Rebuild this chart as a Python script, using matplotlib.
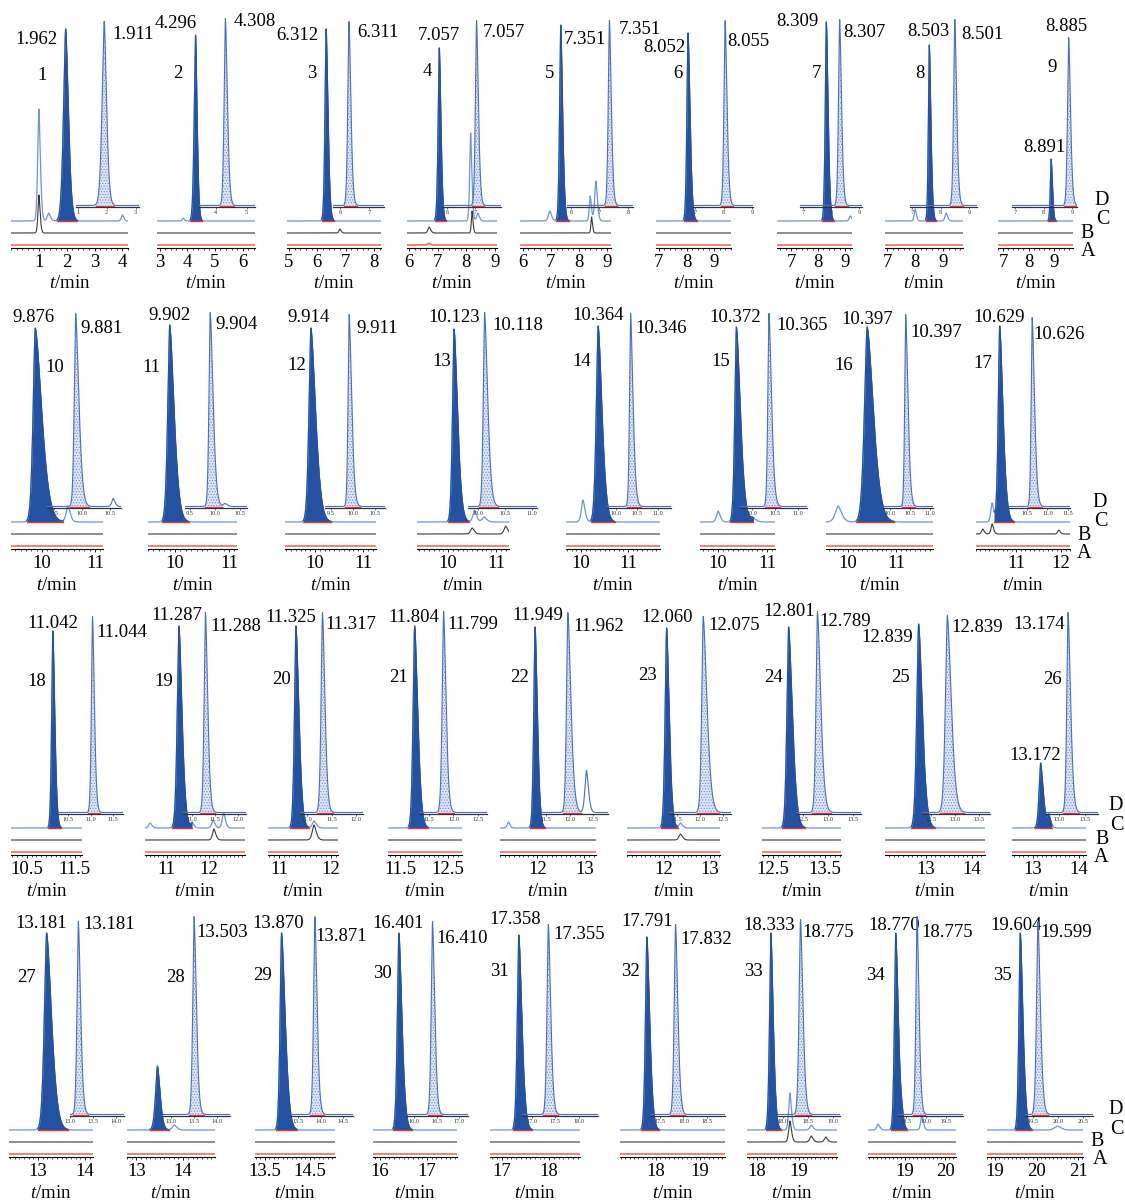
import numpy as np
import matplotlib
matplotlib.use("Agg")
import matplotlib.pyplot as plt
from matplotlib.ticker import MultipleLocator

plt.rcParams['font.family'] = ['Liberation Serif', 'DejaVu Serif']
plt.rcParams['mathtext.fontset'] = 'custom'
plt.rcParams['mathtext.rm'] = 'Liberation Serif'
plt.rcParams['mathtext.it'] = 'Liberation Serif:italic'
plt.rcParams['hatch.linewidth'] = 0.5

# ---------------- data ----------------
compound = list(range(1, 36))
# retention time of peak in trace C (filled) and its label
filled_rt = [1.962, 4.296, 6.312, 7.057, 7.351, 8.052, 8.309, 8.503, 8.891,
             9.876, 9.902, 9.914, 10.123, 10.364, 10.372, 10.397, 10.629,
             11.042, 11.287, 11.325, 11.804, 11.949, 12.060, 12.801, 12.839, 13.172,
             13.181, 13.45, 13.870, 16.401, 17.358, 17.791, 18.333, 18.770, 19.604]
filled_label = ["1.962", "4.296", "6.312", "7.057", "7.351", "8.052", "8.309", "8.503", "8.891",
                "9.876", "9.902", "9.914", "10.123", "10.364", "10.372", "10.397", "10.629",
                "11.042", "11.287", "11.325", "11.804", "11.949", "12.060", "12.801", "12.839", "13.172",
                "13.181", "", "13.870", "16.401", "17.358", "17.791", "18.333", "18.770", "19.604"]
filled_height = [192, 186, 192, 173, 196, 188, 199, 176, 62,
                 194, 197, 194, 193, 196, 195, 195, 196,
                 197, 202, 202, 202, 201, 200, 201, 204, 65,
                 197, 64, 197, 197, 195, 193, 197, 197, 197]
filled_width = [(0.095, 0.12), (0.06, 0.07), (0.05, 0.08), (0.05, 0.07), (0.05, 0.08), (0.05, 0.09),
                (0.05, 0.08), (0.04, 0.07), (0.04, 0.06),
                (0.05, 0.15), (0.045, 0.1), (0.05, 0.12), (0.04, 0.09), (0.05, 0.1), (0.04, 0.1),
                (0.07, 0.16), (0.04, 0.09),
                (0.03, 0.05), (0.05, 0.09), (0.035, 0.07), (0.04, 0.08), (0.035, 0.06), (0.04, 0.07),
                (0.04, 0.09), (0.05, 0.1), (0.04, 0.07),
                (0.06, 0.13), (0.05, 0.07), (0.04, 0.1), (0.04, 0.08), (0.04, 0.08), (0.04, 0.08),
                (0.04, 0.07), (0.04, 0.08), (0.04, 0.08)]
# retention time of peak in trace D (dotted) and its label
hatched_rt = [1.911, 4.308, 6.311, 7.057, 7.351, 8.055, 8.307, 8.501, 8.885,
              9.881, 9.904, 9.911, 10.118, 10.346, 10.365, 10.397, 10.626,
              11.044, 11.288, 11.317, 11.799, 11.962, 12.075, 12.789, 12.839, 13.174,
              13.181, 13.503, 13.871, 16.410, 17.355, 17.832, 18.35, 18.775, 19.599]
hatched_label = ["1.911", "4.308", "6.311", "7.057", "7.351", "8.055", "8.307", "8.501", "8.885",
                 "9.881", "9.904", "9.911", "10.118", "10.346", "10.365", "10.397", "10.626",
                 "11.044", "11.288", "11.317", "11.799", "11.962", "12.075", "12.789", "12.839", "13.174",
                 "13.181", "13.503", "13.871", "16.410", "17.355", "17.832", "18.775", "18.775", "19.599"]
hatched_height = [184, 187, 184, 185, 185, 185, 186, 186, 168,
                  193, 194, 192, 194, 193, 193, 192, 189,
                  196, 200, 200, 201, 200, 196, 201, 197, 200,
                  193, 198, 198, 193, 190, 190, 195, 198, 193]
hatched_width = [(0.09, 0.1)] + [(0.05, 0.08)] * 8 + [(0.03, 0.07)] * 8 + \
                [(0.03, 0.05), (0.035, 0.06), (0.035, 0.06), (0.035, 0.06), (0.035, 0.08), (0.04, 0.1),
                 (0.035, 0.08), (0.05, 0.1), (0.03, 0.06)] + \
                [(0.035, 0.06), (0.035, 0.06), (0.035, 0.06), (0.035, 0.06), (0.035, 0.06),
                 (0.035, 0.06), (0.035, 0.06), (0.035, 0.06), (0.035, 0.06)]

# main axis tick values / labels
main_ticks = [[1, 2, 3, 4], [3, 4, 5, 6], [5, 6, 7, 8], [6, 7, 8, 9], [6, 7, 8, 9], [7, 8, 9], [7, 8, 9],
              [7, 8, 9], [7, 8, 9],
              [10, 11], [10, 11], [10, 11], [10, 11], [10, 11], [10, 11], [10, 11], [11, 12],
              [10.5, 11.5], [11, 12], [11, 12], [11.5, 12.5], [12, 13], [12, 13], [12.5, 13.5], [13, 14], [13, 14],
              [13, 14], [13, 14], [13.5, 14.5], [16, 17], [17, 18], [18, 19], [18, 19], [19, 20], [19, 20, 21]]
# inset (trace D) axis ticks
inset_ticks = [[1, 2, 3], [4, 5], [6, 7], [6, 7], [6, 7, 8], [7, 8, 9], [7, 8, 9], [7, 8, 9], [7, 8, 9],
               [9.5, 10.0, 10.5], [9.5, 10.0, 10.5], [9.5, 10.0, 10.5], [10.0, 10.5, 11.0],
               [10.0, 10.5, 11.0], [10.0, 10.5, 11.0], [10.0, 10.5, 11.0], [10.5, 11.0, 11.5],
               [10.5, 11.0, 11.5], [11.0, 11.5, 12.0], [11.0, 11.5, 12.0], [11.5, 12.0, 12.5],
               [11.5, 12.0, 12.5], [11.5, 12.0, 12.5], [12.5, 13.0, 13.5], [12.5, 13.0, 13.5], [13.0, 13.5],
               [13.0, 13.5, 14.0], [13.0, 13.5, 14.0], [13.5, 14.0, 14.5], [16.0, 16.5, 17.0],
               [17.0, 17.5, 18.0], [17.5, 18.0, 18.5], [18.0, 18.5, 19.0], [18.5, 19.0, 19.5], [19.5, 20.0, 20.5]]

# minor peaks: panel -> list of (trace, rt, height, width)
minor_peaks = {
    1: [("C", 1.0, 112, 0.05), ("C", 1.35, 8, 0.06), ("C", 4.0, 6, 0.05), ("B", 1.0, 38, 0.04)],
    2: [("C", 3.85, 3, 0.04)],
    3: [("B", 6.8, 4, 0.04)],
    4: [("C", 8.15, 88, 0.04), ("C", 8.4, 8, 0.05), ("B", 6.7, 6, 0.05), ("B", 8.2, 22, 0.03), ("A", 6.7, 2, 0.04)],
    5: [("C", 6.96, 10, 0.06), ("C", 8.4, 25, 0.04), ("C", 8.6, 40, 0.05), ("B", 8.45, 16, 0.03)],
    7: [("C", 9.2, 5, 0.05)],
    8: [("C", 8.0, 12, 0.04), ("C", 9.1, 8, 0.05)],
    10: [("C", 10.49, 16, 0.04), ("D", 10.55, 8, 0.03)],
    11: [("D", 10.2, 3, 0.04)],
    13: [("C", 10.55, 12, 0.04), ("C", 10.75, 5, 0.05), ("B", 10.5, 6, 0.04), ("B", 11.2, 8, 0.04)],
    14: [("C", 10.04, 22, 0.04)],
    15: [("C", 10.0, 11, 0.04), ("C", 10.7, 4, 0.06)],
    16: [("C", 9.79, 16, 0.07)],
    17: [("C", 10.46, 19, 0.035), ("B", 10.46, 10, 0.03), ("B", 10.25, 5, 0.03), ("B", 11.95, 4, 0.03)],
    19: [("C", 10.6, 5, 0.04), ("C", 11.6, 5, 0.04), ("C", 12.1, 8, 0.04), ("C", 12.35, 15, 0.04),
         ("B", 12.12, 11, 0.04)],
    20: [("C", 11.67, 7, 0.04), ("B", 11.67, 15, 0.04)],
    22: [("C", 11.38, 6, 0.03), ("D", 12.36, 42, 0.04)],
    23: [("C", 12.36, 5, 0.04), ("B", 12.36, 6, 0.04)],
    26: [("C", 13.35, 12, 0.04)],
    28: [("C", 13.81, 5, 0.05)],
    33: [("C", 18.79, 37, 0.035), ("C", 19.3, 5, 0.04), ("B", 18.79, 21, 0.035), ("B", 19.3, 6, 0.04),
         ("B", 19.65, 5, 0.04)],
    34: [("C", 18.33, 6, 0.04), ("C", 18.93, 7, 0.04), ("C", 19.42, 15, 0.035)],
    35: [("C", 20.5, 4, 0.08)],
}

# ---------------- layout ----------------
W, H = 1125, 1201
row_axis_y = [248, 549, 855, 1157]
panel_row = [0] * 9 + [1] * 8 + [2] * 9 + [3] * 9
# main axes: pixel left/right and time range
main_box = [(11, 128, 0.0, 4.2), (157, 255, 2.9, 6.45), (287, 381, 4.93, 8.25), (407, 497, 5.93, 9.07),
            (520, 611, 5.9, 9.14), (656, 731, 6.9, 9.6), (777, 852, 6.48, 9.26), (885, 963, 6.93, 9.7),
            (998, 1073, 6.8, 9.75),
            (11, 103, 9.42, 11.15), (148, 237, 9.5, 11.15), (285, 376, 9.375, 11.27), (417, 509, 9.35, 11.27),
            (566, 660, 9.68, 11.68), (700, 775, 9.63, 11.16), (826, 933, 9.54, 11.77), (976, 1070, 10.1, 12.2),
            (11, 82, 10.17, 11.65), (145, 245, 10.48, 12.86), (268, 338, 10.79, 12.13), (388, 462, 11.25, 12.79),
            (500, 596, 11.2, 13.25), (627, 720, 11.2, 13.22), (762, 841, 12.29, 13.81), (885, 985, 12.11, 14.28),
            (1012, 1086, 12.55, 14.16),
            (9, 93, 12.38, 14.17), (127, 215, 12.8, 14.68), (255, 335, 13.28, 15.06), (373, 457, 15.85, 17.64),
            (490, 580, 16.75, 18.65), (620, 725, 17.18, 19.57), (747, 837, 17.76, 19.92), (868, 956, 18.08, 20.27),
            (987, 1083, 18.8, 21.12)]
inset_box = [(76, 139, 0.93, 3.12), (199, 255, 3.45, 5.27), (333, 384, 5.76, 7.52), (443, 501, 5.86, 7.93),
             (567, 633, 5.86, 8.18), (693, 753, 6.93, 9.03), (800, 862, 6.9, 9.1), (910, 977, 6.93, 9.28),
             (1012, 1077, 6.88, 9.18),
             (47, 121, 9.37, 10.69), (185, 247, 9.4, 10.64), (325, 385, 9.36, 10.73), (468, 537, 9.81, 11.09),
             (607, 671, 9.79, 11.3), (740, 807, 9.73, 11.2), (883, 933, 9.83, 11.08), (1009, 1070, 10.06, 11.55),
             (59, 123, 10.3, 11.72), (183, 246, 10.8, 12.17), (300, 363, 10.86, 12.14), (419, 487, 11.3, 12.68),
             (542, 608, 11.41, 12.82), (669, 731, 11.33, 12.68), (796, 861, 12.36, 13.66), (922, 990, 12.31, 13.73),
             (1046, 1098, 12.75, 13.75),
             (70, 124, 13.0, 14.17), (163, 230, 12.83, 14.28), (291, 353, 13.34, 14.72), (406, 468, 15.82, 17.2),
             (522, 598, 16.8, 18.4), (650, 725, 17.29, 18.88), (778, 840, 17.9, 19.14), (898, 963, 18.3, 19.92),
             (1025, 1093, 19.34, 20.7)]
# label placement (pixel offsets relative to peak apex: ha, dx, dy-down)
flab_pos = [("right", -8, 10), ("right", 1, -12), ("right", -8, 7), ("center", 0, -12), ("left", 3, 14),
            ("right", -2, 15), ("right", -8, 0), ("center", -1, -13), ("center", -7, -12),
            ("center", -2, -10), ("center", 0, -10), ("center", -2, -10), ("center", 0, -11), ("center", 0, -11),
            ("center", -1, -10), ("center", 0, -8), ("center", -1, -9),
            ("center", 0, -8), ("center", -2, -11), ("center", -5, -9), ("center", -1, -9), ("center", 3, -12),
            ("center", 1, -11), ("center", 1, -15), ("right", -6, 13), ("center", -5, -8),
            ("center", -5, -10), ("center", 0, 0), ("center", -3, -10), ("center", -1, -10), ("center", -4, -15),
            ("center", 0, -15), ("center", -2, -8), ("center", -2, -8), ("center", -4, -8)]
hlab_pos = [("left", 8, 13), ("left", 8, 3), ("left", 8, 11), ("left", 6, 12), ("left", 9, 9),
            ("left", 2, 21), ("left", 4, 13), ("left", 6, 15), ("center", -2, -11),
            ("left", 5, 15), ("left", 5, 12), ("left", 7, 14), ("left", 8, 13), ("left", 5, 15),
            ("left", 7, 12), ("left", 5, 18), ("left", 1, 17),
            ("left", 4, 16), ("left", 5, 14), ("left", 3, 12), ("left", 4, 13), ("left", 6, 14),
            ("left", 5, 9), ("left", 2, 10), ("left", 4, 12), ("right", -3, 12),
            ("left", 5, 3), ("left", 2, 16), ("left", 1, 20), ("left", 4, 17), ("left", 5, 10),
            ("left", 5, 15), ("left", 2, 13), ("left", 4, 16), ("left", 2, 11)]
# compound number: anchor peak ('f' filled / 'h' dotted), ha, dx, height above axis (px)
num_pos = [("f", "right", -19, 172), ("f", "right", -13, 175), ("f", "right", -10, 174), ("f", "right", -7, 177),
           ("f", "right", -7, 174), ("f", "right", -5, 175), ("f", "right", -5, 175), ("f", "right", -5, 175),
           ("h", "right", -12, 180),
           ("f", "left", 10, 182), ("f", "right", -9, 182), ("f", "right", -5, 184), ("f", "right", -3, 187),
           ("f", "right", -7, 188), ("f", "right", -6, 187), ("f", "right", -14, 184), ("f", "right", -8, 185),
           ("f", "right", -7, 174), ("f", "right", -6, 174), ("f", "right", -5, 175), ("f", "right", -7, 177),
           ("f", "right", -6, 178), ("f", "right", -10, 180), ("f", "right", -6, 178), ("f", "right", -9, 177),
           ("h", "right", -6, 175),
           ("f", "right", -11, 179), ("h", "right", -9, 180), ("f", "right", -10, 181), ("f", "right", -7, 184),
           ("f", "right", -10, 186), ("f", "right", -7, 186), ("f", "right", -8, 185), ("f", "right", -11, 182),
           ("f", "right", -8, 181)]

YTOP = 248
BASE = {"A": 3, "B": 15, "C": 27}
INSET_OFF = 41
D_BASE = 1.5
FS = 13.5
PX = 0.72  # points per pixel

DARK = "#2452a3"
LIGHT = "#7093d9"
DOUT = "#4a6cc4"
RED = "#f0624f"

fig = plt.figure(figsize=(W / 100, H / 100), dpi=100)


def peak(t, rt, h, wl, wr, p=1.6):
    # pointed, tailing chromatographic peak shape
    w = 1.17 * np.where(t < rt, wl, wr)
    return h * np.exp(-(np.abs(t - rt) / w) ** p)


def fmt(v, dec):
    return f"{v:.{dec}f}"


for i in range(35):
    r = panel_row[i]
    ay = row_axis_y[r]
    x0, x1, t0, t1 = main_box[i]
    ax = fig.add_axes([x0 / W, 1 - ay / H, (x1 - x0) / W, YTOP / H])
    ax.set_xlim(t0, t1)
    ax.set_ylim(0, YTOP)
    ax.patch.set_visible(False)
    for s in ("top", "right", "left"):
        ax.spines[s].set_visible(False)
    ax.spines["bottom"].set_linewidth(0.8)
    ax.set_yticks([])
    ax.set_xticks(main_ticks[i])
    ax.set_xticklabels([fmt(v, 0) if float(v).is_integer() else fmt(v, 1) for v in main_ticks[i]])
    ax.xaxis.set_minor_locator(MultipleLocator(0.2 if r == 0 else 0.1))
    ax.tick_params(axis="x", which="major", direction="out", length=2, width=0.6, labelsize=FS, pad=2)
    ax.tick_params(axis="x", which="minor", direction="out", length=1.2, width=0.5)

    t = np.linspace(t0, t1, 1500)
    traces = {k: np.full_like(t, v, dtype=float) for k, v in BASE.items()}
    for (tr, mrt, mh, mw) in minor_peaks.get(i + 1, []):
        if tr in traces:
            traces[tr] += peak(t, mrt, mh, mw, mw * 1.3)
    frt, fh = filled_rt[i], filled_height[i]
    fwl, fwr = filled_width[i]
    fpk = peak(t, frt, fh, fwl, fwr)
    yC = traces["C"] + fpk
    ax.plot(t, traces["A"], color=RED, lw=1.1, zorder=2)
    ax.plot(t, traces["B"], color="#3a3a3a", lw=0.8, zorder=2)
    ax.plot(t, yC, color=LIGHT, lw=0.9, zorder=2)
    m = (t > frt - 3.2 * fwl) & (t < frt + 3.5 * fwr)
    ax.fill_between(t[m], BASE["C"], yC[m], color=DARK, lw=0, zorder=3)
    ax.plot(t[m], yC[m], color=DARK, lw=0.8, zorder=3)
    ax.plot([t[m][0], t[m][-1]], [BASE["C"], BASE["C"]], color="#e8323a", lw=1.0, zorder=4)

    # inset (trace D)
    ix0, ix1, it0, it1 = inset_box[i]
    ia = fig.add_axes([ix0 / W, 1 - (ay - INSET_OFF) / H, (ix1 - ix0) / W, (YTOP - INSET_OFF) / H])
    ia.set_xlim(it0, it1)
    ia.set_ylim(0, YTOP - INSET_OFF)
    ia.patch.set_visible(False)
    for s in ("top", "right", "left"):
        ia.spines[s].set_visible(False)
    ia.spines["bottom"].set_linewidth(0.9)
    ia.spines["bottom"].set_color("#333333")
    ia.set_yticks([])
    ia.set_xticks(inset_ticks[i])
    ia.set_xticklabels([fmt(v, 0) if r == 0 else fmt(v, 1) for v in inset_ticks[i]])
    ia.tick_params(axis="x", direction="out", length=1.5, width=0.5, labelsize=4.5, pad=1,
                   colors="#333333")
    ti = np.linspace(it0, it1, 1200)
    yD = np.full_like(ti, D_BASE)
    for (tr, mrt, mh, mw) in minor_peaks.get(i + 1, []):
        if tr == "D":
            yD += peak(ti, mrt, mh, mw, mw * 1.3)
    hrt, hh = hatched_rt[i], hatched_height[i]
    hwl, hwr = hatched_width[i]
    yD += peak(ti, hrt, hh, hwl, hwr)
    mi = (ti > hrt - 3.2 * hwl) & (ti < hrt + 3.5 * hwr)
    ia.fill_between(ti[mi], D_BASE, yD[mi], facecolor="#dde5f6", edgecolor="#6d8bd2",
                    hatch="......", lw=0, zorder=2)
    ia.plot(ti, yD, color=DOUT, lw=0.8, zorder=3)
    ia.plot([ti[mi][0], ti[mi][-1]], [D_BASE, D_BASE], color="#e8323a", lw=1.0, zorder=4)

    # labels
    ha, dx, dy = flab_pos[i]
    if filled_label[i]:
        ax.annotate(filled_label[i], xy=(frt, BASE["C"] + fh), xytext=(dx * PX, -dy * PX),
                    textcoords="offset points", ha=ha, va="center", fontsize=FS, annotation_clip=False)
    ha, dx, dy = hlab_pos[i]
    ia.annotate(hatched_label[i], xy=(hrt, D_BASE + hh), xytext=(dx * PX, -dy * PX),
                textcoords="offset points", ha=ha, va="center", fontsize=FS, annotation_clip=False)
    anc, ha, dx, ny = num_pos[i]
    if anc == "f":
        ax.annotate(str(compound[i]), xy=(frt, ny), xytext=(dx * PX, 0), textcoords="offset points",
                    ha=ha, va="center", fontsize=FS, annotation_clip=False)
    else:
        ia.annotate(str(compound[i]), xy=(hrt, ny - INSET_OFF), xytext=(dx * PX, 0),
                    textcoords="offset points", ha=ha, va="center", fontsize=FS, annotation_clip=False)
    ax.annotate(r"$\it{t}$/min", xy=(0.5, 0), xycoords="axes fraction", xytext=(0, -36 * PX),
                textcoords="offset points", ha="center", va="center", fontsize=FS)

# trace letters
letter_pos = [[(1102, 201), (1103, 220), (1087, 233), (1088, 252)],
              [(1100, 502), (1101, 521), (1084, 535), (1084, 553)],
              [(1116, 806), (1117, 826), (1102, 839), (1101, 858)],
              [(1116, 1109), (1117, 1129), (1097, 1141), (1100, 1160)]]
for row in letter_pos:
    for letter, (lx, ly) in zip("DCBA", row):
        fig.text(lx / W, 1 - ly / H, letter, ha="center", va="center", fontsize=14.5)

fig.savefig("out.png", dpi=100)
